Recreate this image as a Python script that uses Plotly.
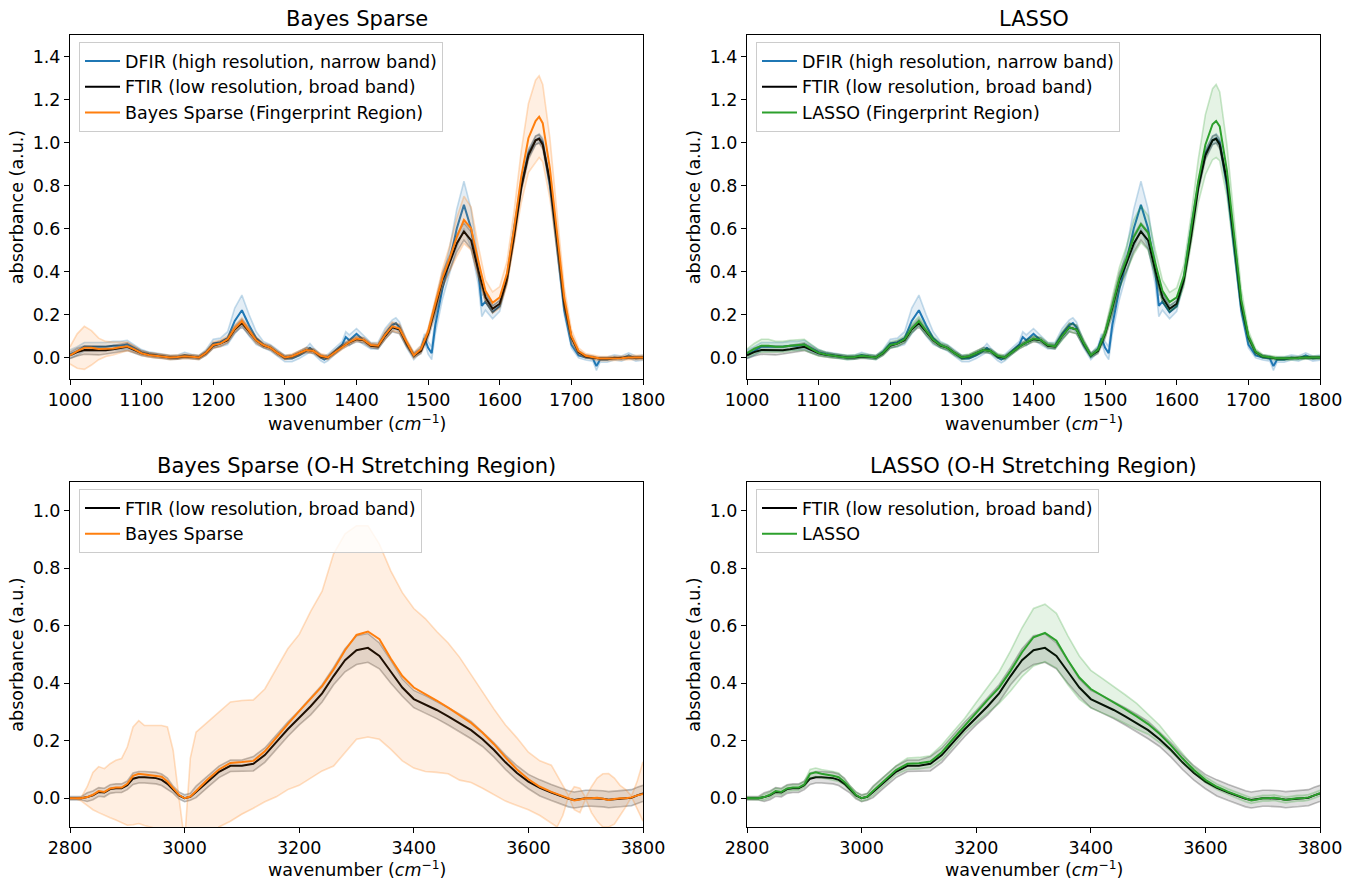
import plotly.graph_objects as go

# ---------------- Fingerprint region data ----------------
FP_X = [1000,1010,1020,1030,1040,1050,1060,1070,1080,1090,
        1100,1110,1120,1130,1140,1150,1160,1170,1180,1190,
        1200,1210,1220,1230,1240,1250,1260,1270,1280,1290,
        1300,1310,1320,1330,1340,1350,1360,1370,1380,1390,
        1400,1410,1420,1430,1440,1450,1460,1470,1480,1490,
        1500,1510,1520,1530,1540,1550,1560,1570,1580,1590,
        1600,1610,1620,1630,1640,1650,
        1655,
        1660,1670,1680,1690,1700,1710,1720,1730,1740,1750,1760,1770,1780,1790,1800]

FTIR_FP = [0.010,0.025,0.035,0.035,0.032,0.034,0.038,0.045,0.050,0.035,
           0.020,0.013,0.008,0.005,0.000,0.000,0.005,0.003,0.000,0.020,
           0.055,0.065,0.080,0.130,0.160,0.120,0.080,0.055,0.045,0.020,
           0.000,0.005,0.020,0.035,0.030,0.005,0.000,0.025,0.050,0.070,
           0.085,0.080,0.055,0.050,0.100,0.140,0.130,0.065,0.010,0.030,
           0.110,0.230,0.360,0.440,0.530,0.586,0.545,0.405,0.280,0.226,
           0.250,0.360,0.560,0.790,0.940,1.010,
           1.017,
           0.990,0.820,0.545,0.250,0.095,0.025,0.005,0.000,-0.005,-0.005,-0.003,0.000,0.000,0.000,0.000]
FTIR_FP_STD = [0.015,0.018,0.020,0.020,0.020,0.018,0.018,0.018,0.018,0.015,
               0.012,0.010,0.010,0.008,0.008,0.008,0.008,0.008,0.008,0.010,
               0.012,0.012,0.012,0.015,0.018,0.015,0.012,0.010,0.010,0.010,
               0.008,0.008,0.010,0.012,0.010,0.008,0.008,0.010,0.010,0.012,
               0.012,0.012,0.010,0.010,0.015,0.020,0.020,0.015,0.010,0.012,
               0.020,0.030,0.035,0.035,0.040,0.040,0.040,0.030,0.020,0.015,
               0.015,0.015,0.020,0.020,0.020,0.020,
               0.020,
               0.020,0.020,0.020,0.015,0.010,0.008,0.006,0.005,0.005,0.005,0.005,0.005,0.005,0.005,0.005]

BAYES_FP = [0.010,0.030,0.045,0.045,0.040,0.040,0.042,0.048,0.052,0.038,
            0.020,0.012,0.008,0.004,0.000,0.002,0.006,0.003,0.000,0.022,
            0.058,0.065,0.085,0.135,0.170,0.125,0.080,0.058,0.045,0.020,
            0.000,0.006,0.022,0.035,0.030,0.008,0.000,0.025,0.050,0.072,
            0.088,0.082,0.058,0.055,0.105,0.145,0.135,0.070,0.010,0.040,
            0.120,0.250,0.370,0.460,0.560,0.640,0.600,0.450,0.310,0.255,
            0.280,0.390,0.600,0.840,1.020,1.100,
            1.120,
            1.090,0.880,0.580,0.280,0.100,0.030,0.008,0.000,-0.005,-0.005,-0.005,-0.003,0.000,0.000,0.000]
BAYES_FP_STD = [0.040,0.080,0.100,0.080,0.050,0.035,0.030,0.025,0.020,0.015,
                0.010,0.010,0.010,0.010,0.010,0.010,0.010,0.010,0.010,0.010,
                0.015,0.015,0.015,0.015,0.015,0.015,0.015,0.010,0.010,0.010,
                0.010,0.010,0.010,0.010,0.010,0.010,0.010,0.010,0.010,0.010,
                0.010,0.010,0.010,0.010,0.020,0.020,0.020,0.015,0.015,0.015,
                0.015,0.030,0.040,0.060,0.090,0.110,0.100,0.070,0.050,0.050,
                0.050,0.055,0.080,0.120,0.160,0.190,
                0.190,
                0.180,0.140,0.090,0.050,0.030,0.015,0.010,0.010,0.010,0.010,0.010,0.010,0.010,0.010,0.010]

LASSO_FP = [0.020,0.040,0.055,0.055,0.050,0.050,0.055,0.058,0.060,0.040,
            0.022,0.014,0.008,0.004,0.000,0.002,0.008,0.004,0.000,0.022,
            0.058,0.065,0.085,0.135,0.170,0.125,0.082,0.058,0.045,0.020,
            0.000,0.006,0.020,0.035,0.030,0.008,0.000,0.025,0.050,0.070,
            0.088,0.082,0.058,0.052,0.100,0.140,0.130,0.068,0.010,0.035,
            0.115,0.240,0.370,0.460,0.560,0.620,0.580,0.440,0.310,0.258,
            0.280,0.380,0.590,0.820,0.990,1.085,
            1.100,
            1.075,0.870,0.570,0.270,0.100,0.028,0.006,0.000,-0.004,-0.004,-0.004,-0.002,0.000,0.000,0.000]
LASSO_FP_STD = [0.020,0.025,0.030,0.030,0.025,0.025,0.025,0.025,0.025,0.020,
                0.015,0.012,0.010,0.010,0.010,0.010,0.010,0.010,0.010,0.012,
                0.015,0.015,0.015,0.020,0.020,0.020,0.015,0.012,0.012,0.010,
                0.010,0.010,0.010,0.010,0.010,0.010,0.010,0.010,0.010,0.012,
                0.012,0.012,0.012,0.012,0.020,0.020,0.020,0.015,0.010,0.012,
                0.020,0.040,0.050,0.060,0.080,0.085,0.080,0.060,0.050,0.045,
                0.045,0.050,0.070,0.100,0.140,0.165,
                0.170,
                0.160,0.120,0.080,0.050,0.025,0.012,0.008,0.008,0.008,0.008,0.008,0.008,0.008,0.008,0.008]

DFIR_X = [1000,1010,1020,1030,1040,1050,1060,1070,1080,1090,
          1100,1110,1120,1130,1140,1150,1160,1170,1180,1190,
          1200,1210,1220,1230,1240,1250,1260,1270,1280,1290,
          1300,1310,1320,1330,1335,1340,1350,1355,1360,1370,1380,1385,1390,
          1400,1410,1420,1430,1440,1450,1455,1460,1470,1480,1490,1495,
          1500,1505,1510,1520,1530,1540,1550,1560,1570,1575,1580,1590,
          1600,1610,1620,1630,1640,1650,1655,1660,1670,1680,1690,
          1700,1710,1720,1730,1735,1740,1750,1760,1770,1780,1790,1800]
DFIR_Y = [0.015,0.030,0.050,0.050,0.050,0.050,0.055,0.055,0.060,0.042,
          0.025,0.016,0.010,0.005,0.000,0.002,0.012,0.005,0.000,0.025,
          0.065,0.070,0.090,0.170,0.220,0.150,0.090,0.060,0.045,0.020,
          -0.005,-0.005,0.010,0.030,0.045,0.030,0.000,-0.010,0.000,0.030,0.060,0.095,0.080,
          0.110,0.080,0.055,0.055,0.110,0.150,0.160,0.140,0.060,0.005,0.040,0.090,
          0.045,0.020,0.150,0.320,0.450,0.600,0.710,0.600,0.400,0.240,0.260,0.210,
          0.240,0.370,0.600,0.800,0.950,1.010,1.020,1.000,0.800,0.500,0.220,
          0.060,0.010,0.000,-0.005,-0.040,-0.010,-0.010,0.000,-0.005,0.010,-0.005,0.000]
DFIR_STD = [0.020,0.020,0.020,0.020,0.020,0.020,0.020,0.020,0.020,0.018,
            0.012,0.010,0.010,0.010,0.010,0.010,0.012,0.010,0.010,0.012,
            0.020,0.020,0.030,0.060,0.070,0.050,0.030,0.015,0.015,0.015,
            0.015,0.015,0.015,0.015,0.020,0.015,0.015,0.015,0.015,0.015,0.015,0.025,0.025,
            0.025,0.020,0.015,0.015,0.025,0.025,0.025,0.025,0.015,0.015,0.015,0.020,
            0.030,0.030,0.040,0.050,0.060,0.090,0.110,0.090,0.060,0.050,0.040,0.030,
            0.025,0.020,0.020,0.020,0.020,0.020,0.020,0.020,0.020,0.020,0.020,
            0.015,0.012,0.012,0.012,0.020,0.012,0.012,0.012,0.012,0.012,0.012,0.012]

# ---------------- O-H stretching region data ----------------
OH_X = [2800,2810,2820,2830,2840,2850,2860,2870,2880,2890,2900,2910,2920,2930,2940,2950,2960,2970,2980,2990,3000,3010,3020,
        3040,3060,3080,3100,3120,3140,3160,3180,3200,3220,3240,3260,3280,3300,3320,3340,3360,3380,3400,3420,3440,3460,3480,
        3500,3520,3540,3560,3580,3600,3620,3640,
        3650,3660,3670,3680,3690,3700,3710,3720,3730,3740,3750,3760,3770,3780,3790,3800]

FTIR_OH = [0.000,0.000,0.000,0.004,0.010,0.022,0.020,0.032,0.035,0.035,0.045,0.068,0.073,0.073,0.072,0.070,0.064,0.050,0.030,0.010,0.000,0.005,0.022,
           0.058,0.092,0.113,0.113,0.120,0.150,0.195,0.240,0.280,0.320,0.365,0.425,0.480,0.515,0.523,0.495,0.440,0.385,0.345,0.327,0.307,0.285,0.262,
           0.237,0.205,0.168,0.125,0.088,0.058,0.036,0.020,
           0.013,0.006,-0.002,-0.006,-0.003,0.000,0.000,0.000,-0.002,-0.005,-0.003,0.000,0.000,0.002,0.010,0.017]
FTIR_OH_STD = [0.006,0.006,0.006,0.015,0.015,0.015,0.015,0.015,0.015,0.015,0.015,0.020,0.020,0.020,0.020,0.020,0.020,0.020,0.012,0.012,0.012,0.012,0.020,
               0.020,0.020,0.020,0.020,0.025,0.025,0.025,0.025,0.025,0.030,0.030,0.030,0.040,0.050,0.050,0.045,0.040,0.030,0.030,0.030,0.030,0.030,0.030,
               0.030,0.025,0.025,0.025,0.025,0.025,0.028,0.028,
               0.028,0.028,0.028,0.028,0.028,0.028,0.028,0.028,0.028,0.028,0.028,0.028,0.028,0.028,0.028,0.028]

BAYES_OH = [0.000,0.000,0.000,0.004,0.012,0.025,0.022,0.034,0.037,0.037,0.050,0.078,0.085,0.083,0.081,0.079,0.075,0.058,0.035,0.012,0.000,0.006,0.025,
            0.065,0.100,0.123,0.126,0.130,0.163,0.212,0.258,0.303,0.348,0.390,0.448,0.515,0.568,0.580,0.553,0.485,0.425,0.385,0.362,0.340,0.315,0.290,
            0.262,0.228,0.188,0.142,0.100,0.066,0.040,0.022,
            0.014,0.006,-0.002,-0.008,-0.004,0.000,0.000,0.002,-0.002,-0.006,-0.003,0.000,0.000,0.003,0.010,0.015]
BAYES_OH_HI = [0.000,0.000,0.005,0.040,0.090,0.110,0.103,0.120,0.132,0.138,0.178,0.248,0.270,0.253,0.253,0.253,0.253,0.248,0.167,0.005,-0.150,0.140,0.230,
               0.265,0.300,0.335,0.340,0.342,0.380,0.450,0.520,0.570,0.650,0.720,0.850,0.920,0.948,0.948,0.884,0.790,0.715,0.660,0.625,0.580,0.540,0.490,
               0.430,0.370,0.310,0.255,0.210,0.160,0.130,0.115,
               0.080,0.040,0.010,0.040,0.035,0.002,0.040,0.070,0.085,0.086,0.070,0.045,0.030,0.008,0.060,0.127]
BAYES_OH_LO = [0.000,-0.002,-0.010,-0.025,-0.040,-0.050,-0.060,-0.068,-0.076,-0.085,-0.094,-0.092,-0.088,-0.095,-0.100,-0.105,-0.110,-0.120,-0.140,-0.200,-0.300,-0.250,-0.200,
               -0.150,-0.100,-0.080,-0.055,-0.035,-0.012,0.005,0.030,0.045,0.070,0.095,0.112,0.160,0.205,0.213,0.205,0.170,0.130,0.105,0.093,0.090,0.085,0.063,
               0.055,0.035,0.012,-0.010,-0.025,-0.040,-0.060,-0.085,
               -0.100,-0.060,0.005,-0.040,-0.050,-0.002,-0.050,-0.080,-0.100,-0.100,-0.090,-0.060,-0.030,0.005,-0.040,-0.080]

LASSO_OH = [0.000,0.000,0.000,0.004,0.012,0.025,0.022,0.034,0.037,0.037,0.048,0.085,0.090,0.085,0.082,0.078,0.073,0.057,0.035,0.012,0.000,0.006,0.025,
            0.062,0.098,0.120,0.122,0.128,0.160,0.207,0.253,0.298,0.342,0.385,0.443,0.508,0.560,0.575,0.548,0.480,0.420,0.380,0.357,0.335,0.310,0.285,
            0.258,0.224,0.184,0.139,0.098,0.064,0.040,0.022,
            0.014,0.006,-0.002,-0.008,-0.004,0.000,0.000,0.002,-0.002,-0.006,-0.003,0.000,0.000,0.003,0.010,0.018]
LASSO_OH_STD = [0.004,0.004,0.004,0.010,0.010,0.010,0.010,0.010,0.010,0.010,0.010,0.015,0.015,0.015,0.015,0.015,0.015,0.010,0.010,0.010,0.010,0.010,0.015,
                0.015,0.015,0.020,0.020,0.020,0.025,0.025,0.025,0.035,0.045,0.055,0.070,0.085,0.100,0.100,0.095,0.085,0.075,0.065,0.060,0.055,0.050,0.045,
                0.035,0.030,0.020,0.015,0.010,0.010,0.010,0.010,
                0.010,0.010,0.010,0.010,0.010,0.010,0.010,0.010,0.010,0.010,0.010,0.010,0.010,0.010,0.010,0.010]

# ---------------- Styling ----------------
FONT = "DejaVu Sans"
BLUE = (31, 119, 180)
BLACK = (0, 0, 0)
ORANGE = (255, 127, 14)
GREEN = (44, 160, 44)

# the page body margin is removed in the html (post_script), so figure == window
W, H = 1354, 882
OFF = 0
# axes frames in window pixels (left, right, top, bottom)
FRAMES = {
    1: (70, 643, 35, 379),
    2: (747, 1320, 35, 379),
    3: (70, 643, 482, 827),
    4: (747, 1320, 482, 827),
}
# x-axis title centre rows (window pixels)
XTITLE_Y = {1: 423, 2: 423, 3: 869, 4: 869}

fig = go.Figure()


def rgba(c, a):
    return "rgba(%d,%d,%d,%.3f)" % (c[0], c[1], c[2], a)


def add_band(idx, x, lo, hi, color):
    xa = "x" if idx == 1 else "x%d" % idx
    ya = "y" if idx == 1 else "y%d" % idx
    fig.add_trace(go.Scatter(
        x=list(x) + list(x)[::-1], y=list(hi) + list(lo)[::-1],
        fill="toself", fillcolor=rgba(color, 0.12), mode="lines",
        line=dict(width=0), hoverinfo="skip", showlegend=False,
        xaxis=xa, yaxis=ya))
    fig.add_trace(go.Scatter(
        x=list(x) + [None] + list(x), y=list(hi) + [None] + list(lo),
        mode="lines", line=dict(color=rgba(color, 0.25), width=1.6),
        hoverinfo="skip", showlegend=False, xaxis=xa, yaxis=ya))


def add_line(idx, x, y, color, name, legend):
    xa = "x" if idx == 1 else "x%d" % idx
    ya = "y" if idx == 1 else "y%d" % idx
    fig.add_trace(go.Scatter(
        x=x, y=y, mode="lines", name=name,
        line=dict(color=rgba(color, 1.0), width=2),
        xaxis=xa, yaxis=ya, legend=legend))


def series(idx, x, mean, color, name, legend, std=None, lo=None, hi=None):
    if std is not None:
        lo = [m - s for m, s in zip(mean, std)]
        hi = [m + s for m, s in zip(mean, std)]
    add_band(idx, x, lo, hi, color)
    add_line(idx, x, mean, color, name, legend)


# Panel 1: Bayes Sparse fingerprint
series(1, DFIR_X, DFIR_Y, BLUE, "DFIR (high resolution, narrow band)", "legend", std=DFIR_STD)
series(1, FP_X, FTIR_FP, BLACK, "FTIR (low resolution, broad band)", "legend", std=FTIR_FP_STD)
series(1, FP_X, BAYES_FP, ORANGE, "Bayes Sparse (Fingerprint Region)", "legend", std=BAYES_FP_STD)
# Panel 2: LASSO fingerprint
series(2, DFIR_X, DFIR_Y, BLUE, "DFIR (high resolution, narrow band)", "legend2", std=DFIR_STD)
series(2, FP_X, FTIR_FP, BLACK, "FTIR (low resolution, broad band)", "legend2", std=FTIR_FP_STD)
series(2, FP_X, LASSO_FP, GREEN, "LASSO (Fingerprint Region)", "legend2", std=LASSO_FP_STD)
# Panel 3: Bayes Sparse O-H
series(3, OH_X, FTIR_OH, BLACK, "FTIR (low resolution, broad band)", "legend3", std=FTIR_OH_STD)
series(3, OH_X, BAYES_OH, ORANGE, "Bayes Sparse", "legend3", lo=BAYES_OH_LO, hi=BAYES_OH_HI)
# Panel 4: LASSO O-H
series(4, OH_X, FTIR_OH, BLACK, "FTIR (low resolution, broad band)", "legend4", std=FTIR_OH_STD)
series(4, OH_X, LASSO_OH, GREEN, "LASSO", "legend4", std=LASSO_OH_STD)

TITLES = {1: "Bayes Sparse", 2: "LASSO",
          3: "Bayes Sparse (O-H Stretching Region)", 4: "LASSO (O-H Stretching Region)"}
XRANGES = {1: [1000, 1800], 2: [1000, 1800], 3: [2800, 3800], 4: [2800, 3800]}
YRANGES = {1: [-0.1, 1.5], 2: [-0.1, 1.5], 3: [-0.1, 1.1], 4: [-0.1, 1.1]}
XTICKS = {1: 100, 2: 100, 3: 200, 4: 200}
YTICKMAX = {1: 1.4, 2: 1.4, 3: 1.0, 4: 1.0}

FS = 17.5
layout = dict(
    width=W, height=H, margin=dict(l=0, r=0, t=0, b=0, autoexpand=False),
    paper_bgcolor="white", plot_bgcolor="white",
    font=dict(family=FONT, size=FS, color="black"),
    showlegend=True,
)
annotations = []
axis_common = dict(showline=True, linecolor="black", linewidth=1, mirror=True,
                   ticks="outside", ticklen=5, tickwidth=1, tickcolor="black",
                   showgrid=False, zeroline=False, automargin=False,
                   tickfont=dict(family=FONT, size=FS, color="black"))
for i in range(1, 5):
    l, r, t, b = [v - OFF for v in FRAMES[i]]
    xd = [l / W, r / W]
    yd = [1 - b / H, 1 - t / H]
    sx = "" if i == 1 else str(i)
    ya = "y" if i == 1 else "y%d" % i
    xa = "x" if i == 1 else "x%d" % i
    nticks = int(round(YTICKMAX[i] / 0.2)) + 1
    layout["xaxis" + sx] = dict(axis_common, domain=xd, anchor=ya, range=XRANGES[i],
                                dtick=XTICKS[i], tick0=XRANGES[i][0])
    layout["yaxis" + sx] = dict(axis_common, domain=yd, anchor=xa, range=YRANGES[i],
                                tickmode="array",
                                tickvals=[round(0.2 * k, 1) for k in range(nticks)],
                                ticktext=["%.1f" % (0.2 * k) for k in range(nticks)],
                                title=dict(text="absorbance (a.u.)",
                                           font=dict(family=FONT, size=FS), standoff=4))
    leg = "legend" if i == 1 else "legend%d" % i
    layout[leg] = dict(x=(l + 9) / W, y=1 - (t + 7) / H, xanchor="left", yanchor="top",
                       bgcolor="rgba(255,255,255,0.8)", bordercolor="#cccccc", borderwidth=1,
                       font=dict(family=FONT, size=FS, color="black"),
                       tracegroupgap=0, itemwidth=35)
    annotations.append(dict(text=TITLES[i], xref="paper", yref="paper",
                            x=(l + r) / 2 / W, y=1 - (t - 16) / H,
                            xanchor="center", yanchor="middle", showarrow=False,
                            font=dict(family=FONT, size=21, color="black")))
    annotations.append(dict(text="wavenumber (<i>cm</i><sup>−1</sup>)", xref="paper", yref="paper",
                            x=(l + r) / 2 / W, y=1 - (XTITLE_Y[i] - OFF) / H,
                            xanchor="center", yanchor="middle", showarrow=False,
                            font=dict(family=FONT, size=FS, color="black")))
layout["annotations"] = annotations
fig.update_layout(**layout)

fig.write_html("out.html", config={"displayModeBar": False},
               post_script="document.body.style.margin='0';document.body.style.overflow='hidden';")
